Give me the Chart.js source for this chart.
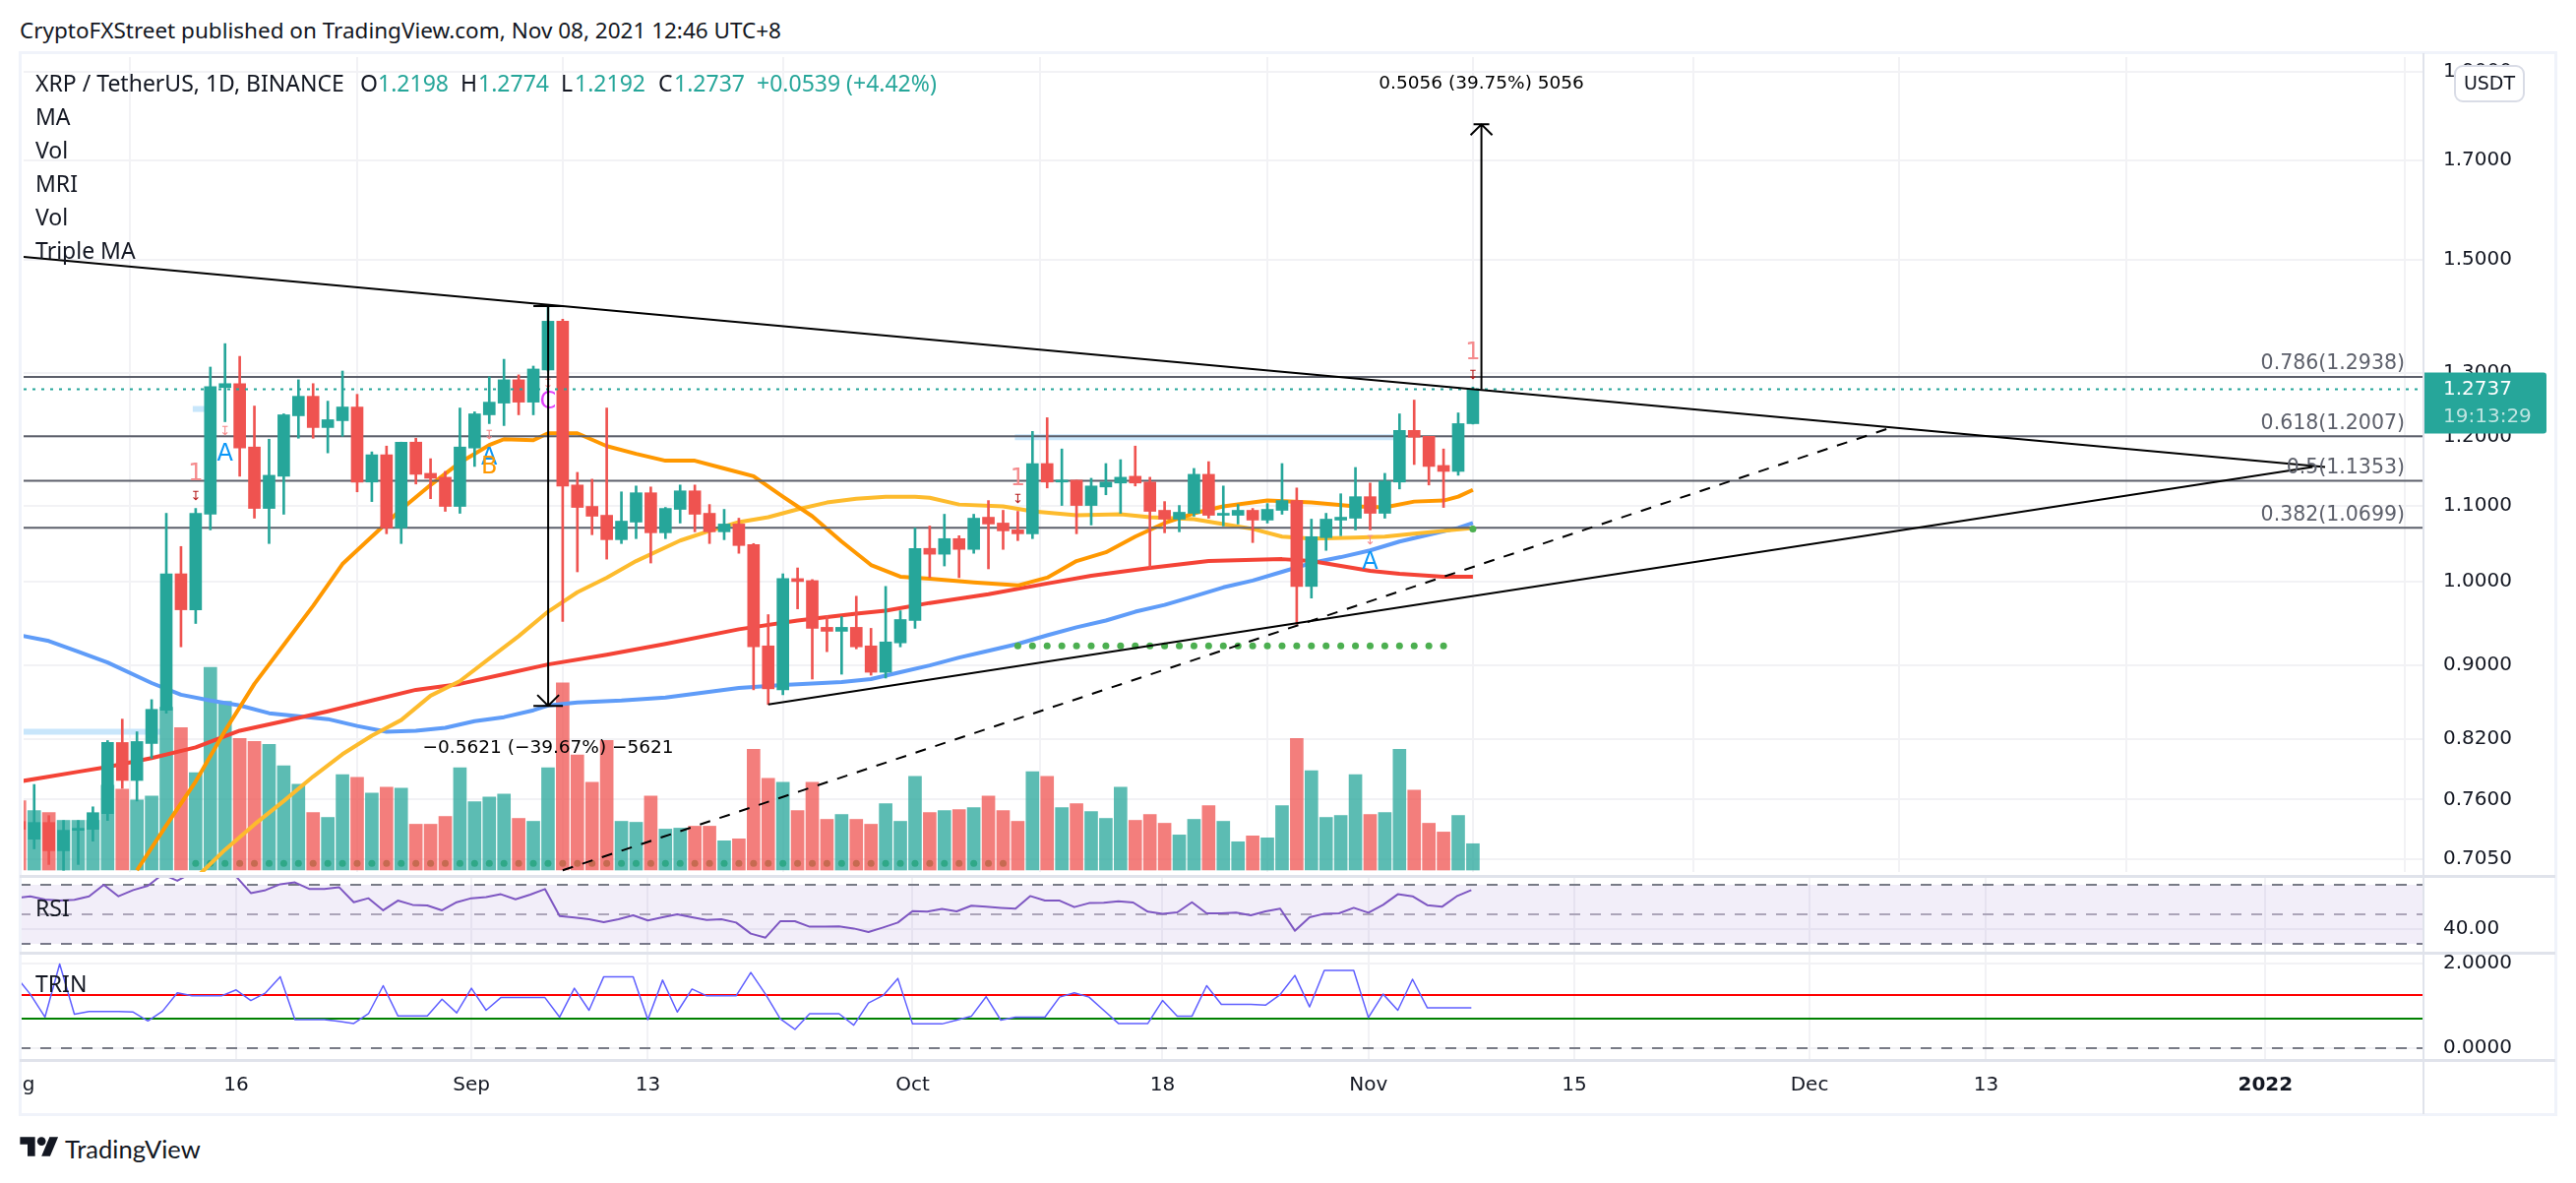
<!DOCTYPE html>
<html>
<head>
<meta charset="utf-8">
<title>XRP / TetherUS</title>
<script src="https://cdn.jsdelivr.net/npm/chart.js@4/dist/chart.umd.min.js"></script>
<style>
  html, body { margin: 0; padding: 0; background: #fff; }
  body { width: 2618px; height: 1202px; position: relative; overflow: hidden; font-family: "Noto Sans", sans-serif; color: #131722; }
  canvas { position: absolute; left: 20px; }
  .txt { position: absolute; white-space: nowrap; line-height: 28px; height: 28px; font-size: 23px; }
  .val { color: #26a69a; }
  .rule { position: absolute; }
</style>
</head>
<body>

<canvas id="mainChart" width="2578" height="836" style="top:54px"></canvas>
<canvas id="rsiChart" width="2578" height="78" style="top:890px"></canvas>
<canvas id="trinChart" width="2578" height="164" style="top:968px"></canvas>

<!-- frame and pane separators -->
<div class="rule" style="left:19px;top:52px;width:2580px;height:3px;background:#f0f3fa"></div>
<div class="rule" style="left:19px;top:52px;width:3px;height:1082px;background:#f0f3fa"></div>
<div class="rule" style="left:2596px;top:52px;width:3px;height:1082px;background:#f0f3fa"></div>
<div class="rule" style="left:19px;top:1131px;width:2580px;height:3px;background:#f0f3fa"></div>
<div class="rule" style="left:2462px;top:54px;width:2px;height:1078px;background:#e0e3eb"></div>
<div class="rule" style="left:20px;top:889px;width:2577px;height:3px;background:#e0e3eb"></div>
<div class="rule" style="left:20px;top:967px;width:2577px;height:3px;background:#e0e3eb"></div>
<div class="rule" style="left:20px;top:1076px;width:2577px;height:3px;background:#e0e3eb"></div>

<div class="txt" style="left:20px;top:17px;font-size:22.5px">CryptoFXStreet published on TradingView.com, Nov 08, 2021 12:46 UTC+8</div>

<div class="txt" style="left:36px;top:70px">XRP / TetherUS, 1D, BINANCE</div>
<div class="txt" style="left:366px;top:70px">O</div><div class="txt val" style="left:384px;top:70px">1.2198</div>
<div class="txt" style="left:468px;top:70px">H</div><div class="txt val" style="left:486px;top:70px">1.2774</div>
<div class="txt" style="left:570px;top:70px">L</div><div class="txt val" style="left:584px;top:70px">1.2192</div>
<div class="txt" style="left:669px;top:70px">C</div><div class="txt val" style="left:685px;top:70px">1.2737</div>
<div class="txt val" style="left:769px;top:70px">+0.0539 (+4.42%)</div>
<div class="txt" style="left:36px;top:104px">MA</div>
<div class="txt" style="left:36px;top:138px">Vol</div>
<div class="txt" style="left:36px;top:172px">MRI</div>
<div class="txt" style="left:36px;top:206px">Vol</div>
<div class="txt" style="left:36px;top:240px">Triple MA</div>
<div class="txt" style="left:36px;top:908px">RSI</div>
<div class="txt" style="left:36px;top:985px">TRIN</div>

<svg style="position:absolute;left:20px;top:1153px" width="40" height="24" viewBox="0 0 36 22" fill="#131722">
  <path d="M14 20H7V9H0V2h14v18zM28 20h-8l7.5-18h8L28 20z"/><circle cx="20" cy="6" r="4"/>
</svg>
<div class="txt" style="left:66px;top:1152px;font-family:Lato,sans-serif;font-size:25.5px;line-height:30px;height:30px">TradingView</div>

<script>
// x values are days counted from 2021-08-01 (day 0)
const xMin = 0.28;
const xMax = 163.75;

const opens = [0.7393,0.7231,0.7384,0.7126,0.7312,0.7321,0.7466,0.8166,0.7785,0.8156,
  0.8504,1.0098,0.9651,1.0884,1.2766,1.2829,1.1845,1.0964,1.1417,1.2320,
  1.2626,1.2139,1.2244,1.2457,1.1334,1.1730,1.0698,1.1918,1.1459,1.1403,
  1.0992,1.1830,1.2335,1.2518,1.2891,1.2533,1.3051,1.3877,1.1292,1.0992,
  1.0870,1.0541,1.0777,1.1182,1.0633,1.0951,1.1209,1.0897,1.0646,1.0751,
  1.0477,0.9222,0.8726,1.0037,1.0012,0.9440,0.9393,0.9440,0.9222,0.8921,
  0.9257,0.9521,1.0426,1.0350,1.0555,1.0413,1.0843,1.0764,1.0672,1.0620,
  1.1601,1.1334,1.1361,1.1005,1.1264,1.1320,1.1417,1.1334,1.0938,1.0817,
  1.0897,1.1445,1.0870,1.0870,1.0938,1.0804,1.0938,1.1073,0.9939,1.0568,
  1.0804,1.0830,1.1127,1.0897,1.1334,1.2095,1.2006,1.1573,1.1487,1.2198];
const highs = [0.7450,0.7746,0.7448,0.7403,0.7403,0.7531,0.8186,0.8410,0.8277,0.8619,
  1.0897,1.0451,1.0964,1.3099,1.3491,1.3277,1.2472,1.1962,1.2350,1.2891,
  1.2829,1.2549,1.3034,1.2657,1.1773,1.1859,1.1918,1.1977,1.1672,1.1487,
  1.2441,1.2381,1.2939,1.3228,1.2971,1.3115,1.4135,1.3911,1.1473,1.1375,
  1.2441,1.1195,1.1278,1.1264,1.0978,1.1292,1.1292,1.1018,1.0951,1.0830,
  1.0490,0.9592,1.0098,1.0173,1.0025,0.9580,0.9568,0.9817,0.9428,0.9939,
  0.9639,1.0698,1.0724,1.0884,1.0594,1.0884,1.1073,1.0938,1.0924,1.2080,
  1.2290,1.1816,1.1361,1.1388,1.1601,1.1658,1.1859,1.1403,1.1059,1.1005,
  1.1530,1.1629,1.1278,1.1018,1.0964,1.1032,1.1601,1.1250,1.0817,1.0897,
  1.1168,1.1544,1.1320,1.1459,1.2350,1.2566,1.2006,1.1816,1.2365,1.2774];
const lows = [0.7280,0.7143,0.7004,0.6953,0.7004,0.7213,0.7403,0.7708,0.7586,0.8007,
  0.8473,0.9211,0.9486,1.0672,1.2228,1.1417,1.0830,1.0490,1.0884,1.1977,
  1.1977,1.1758,1.2006,1.1195,1.1059,1.0620,1.0490,1.1306,1.1099,1.0924,
  1.0897,1.1559,1.2199,1.2169,1.2335,1.2335,1.3034,0.9509,1.0123,1.0607,
  1.0286,1.0490,1.0555,1.0236,1.0555,1.0764,1.0646,1.0490,1.0541,1.0362,
  0.8726,0.8567,0.8672,0.9662,0.8845,0.9155,0.8899,0.9188,0.8888,0.8856,
  0.9211,0.9428,1.0049,1.0198,1.0049,1.0362,1.0161,1.0413,1.0529,1.0555,
  1.1250,1.1005,1.0620,1.0738,1.1154,1.0897,1.1278,1.0173,1.0633,1.0646,
  1.0857,1.0830,1.0725,1.0751,1.0503,1.0764,1.0884,0.9475,0.9794,1.0400,
  1.0594,1.0672,1.0672,1.0830,1.1236,1.1587,1.1292,1.0978,1.1431,1.2192];
const closes = [0.7321,0.7384,0.7126,0.7312,0.7330,0.7476,0.8166,0.7785,0.8176,0.8514,
  1.0098,0.9651,1.0897,1.2782,1.2829,1.1830,1.0964,1.1431,1.2335,1.2626,
  1.2139,1.2259,1.2457,1.1334,1.1730,1.0698,1.1918,1.1445,1.1388,1.0992,
  1.1845,1.2350,1.2533,1.2891,1.2533,1.3067,1.3877,1.1278,1.0978,1.0857,
  1.0541,1.0790,1.1182,1.0633,1.0964,1.1209,1.0884,1.0646,1.0751,1.0464,
  0.9211,0.8737,1.0037,1.0000,0.9428,0.9393,0.9440,0.9211,0.8921,0.9268,
  0.9533,1.0426,1.0350,1.0555,1.0413,1.0830,1.0751,1.0659,1.0620,1.1601,
  1.1334,1.1361,1.1005,1.1278,1.1334,1.1403,1.1320,1.0924,1.0817,1.0911,
  1.1445,1.0870,1.0897,1.0938,1.0804,1.0951,1.1073,0.9939,1.0581,1.0817,
  1.0843,1.1127,1.0897,1.1347,1.2095,1.1992,1.1559,1.1487,1.2199,1.2737];
// relative volume, the pane has no volume axis to read from
const volumes = [71,61,59,51,51,51,87,83,72,76,
  167,146,100,208,173,135,132,129,107,88,
  59,54,98,95,79,85,84,47,47,55,
  105,70,75,78,53,50,105,192,118,90,
  133,50,49,76,42,43,45,45,30,32,
  124,94,90,61,90,52,57,52,47,68,
  50,96,59,61,62,64,76,61,50,101,
  96,64,68,60,53,85,51,57,48,36,
  52,66,50,29,35,33,66,135,102,54,
  56,98,57,59,124,82,48,39,56,27];

const orangeDays = [8,10,12,14,16,18,20,22,24,26,28,30,32,33,35,36,38,40,42,44,46,48,50,52,54,56,58,60,62,65,68,70,72,74,76,78,80,82,85,88,91,93,95,97,98,99];
const orangeValues = [0.6953,0.7357,0.7775,0.8288,0.8791,0.9233,0.9698,1.0223,1.0581,1.0951,1.1292,1.1616,1.1874,1.1962,1.1947,1.2051,1.2051,1.1859,1.1744,1.1643,1.1643,1.1530,1.1417,1.1127,1.0857,1.0516,1.0211,1.0061,1.0037,0.9988,0.9951,1.0049,1.0261,1.0375,1.0581,1.0764,1.0897,1.0992,1.1073,1.1046,1.0992,1.0978,1.1059,1.1073,1.1127,1.1223];
const yellowDays = [12,14,16,18,20,22,24,26,28,30,32,34,36,38,40,42,45,47,49,51,53,55,57,59,61,62,64,67,69,72,75,77,80,82,84,86,88,91,93,95,97,99];
const yellowValues = [0.6885,0.7135,0.7366,0.7586,0.7823,0.8047,0.8236,0.8400,0.8662,0.8823,0.9076,0.9336,0.9627,0.9866,1.0049,1.0261,1.0529,1.0659,1.0777,1.0843,1.0951,1.1046,1.1099,1.1127,1.1127,1.1113,1.1018,1.0992,1.0924,1.0870,1.0884,1.0843,1.0817,1.0751,1.0685,1.0581,1.0555,1.0568,1.0581,1.0620,1.0659,1.0698];
const redDays = [0,4,6,9,12,15,18,21,24,27,30,33,36,40,44,49,53,57,59,62,66,70,73,77,81,86,88,90,92,94,97,99];
const redValues = [0.7775,0.7871,0.7919,0.8007,0.8116,0.8288,0.8389,0.8493,0.8609,0.8726,0.8791,0.8899,0.9009,0.9121,0.9245,0.9417,0.9521,0.9604,0.9639,0.9734,0.9842,0.9975,1.0074,1.0173,1.0261,1.0286,1.0261,1.0198,1.0136,1.0098,1.0061,1.0061];
const blueDays = [0,2,4,6,9,11,13,15,17,19,21,23,25,27,29,31,33,35,36,38,41,44,49,52,56,58,60,62,64,66,68,70,72,74,76,78,80,82,84,86,88,90,92,94,96,98,99];
const blueValues = [0.9346,0.9279,0.9155,0.9032,0.8801,0.8672,0.8609,0.8556,0.8473,0.8441,0.8410,0.8338,0.8277,0.8288,0.8318,0.8389,0.8431,0.8504,0.8556,0.8588,0.8609,0.8641,0.8747,0.8779,0.8812,0.8845,0.8921,0.8998,0.9088,0.9165,0.9245,0.9346,0.9440,0.9521,0.9627,0.9710,0.9817,0.9927,1.0012,1.0123,1.0236,1.0312,1.0400,1.0516,1.0607,1.0698,1.0764];

const rsiValues = [60.9,62.2,60,59.3,59.8,62.2,70,62.2,66.4,69.3,
  77.1,72.7,78.2,79.3,78.7,75.6,64.4,66.4,70.4,71.6,
  67.1,67.1,68.4,58.2,60.9,52.7,59.3,56.4,56,52.7,
  58.2,60.9,61.6,63.6,60.2,63.3,67.1,48.9,47.8,46.7,
  44.7,46.7,49.3,45.8,48,50,48,46.2,46.7,44.4,
  36.9,34.2,45.3,45.3,41.6,41.6,41.8,40.4,38,41.1,
  44.4,52.2,51.8,53.6,52,55.8,55.1,54.4,53.8,62.4,
  59.3,59.3,54.9,57.6,57.8,58.9,58,51.8,50.4,51.3,
  58.2,50.7,50.7,51.1,49.3,52,53.8,38.9,48,50.4,
  50.7,54.4,51.1,56.4,63.6,62.2,56.2,55.1,62.2,66.4];
const trinValues = [1.70,1.27,0.73,1.98,0.80,0.86,0.86,0.86,0.85,0.64,
  0.87,1.30,1.23,1.23,1.23,1.37,1.12,1.30,1.68,0.67,
  0.67,0.67,0.63,0.58,0.81,1.47,0.76,0.76,0.76,1.15,
  0.83,1.41,0.89,1.19,1.19,1.19,1.19,0.73,1.41,0.89,
  1.68,1.68,1.68,0.67,1.60,0.85,1.39,1.23,1.23,1.23,
  1.78,1.27,0.69,0.44,0.81,0.81,0.81,0.54,1.06,1.24,
  1.64,0.57,0.57,0.57,0.66,0.75,1.21,0.66,0.73,0.73,
  0.73,1.20,1.30,1.20,0.89,0.58,0.58,0.58,1.12,0.75,
  0.75,1.47,1.03,1.03,1.03,1.01,1.26,1.71,0.97,1.83,
  1.83,1.83,0.72,1.27,0.89,1.62,0.95,0.95,0.95,0.95];

const priceTicks = [1.9,1.7,1.5,1.3,1.2,1.1,1.0,0.9,0.82,0.76,0.705];
const timeTickDays = [0,15,31,43,61,78,92,106,122,134,153];
const timeTickLabels = ['Aug','16','Sep','13','Oct','18','Nov','15','Dec','13','2022'];

const fibLevels = [1.2938,1.2007,1.1353,1.0699];
const fibLabels = ['0.786(1.2938)','0.618(1.2007)','0.5(1.1353)','0.382(1.0699)'];

// drawn trend lines: [day, price] at both ends
const fallingLineDays = [0.28,157.05];
const fallingLinePrices = [1.5047,1.1551];
const risingLineDays = [51,156.2];
const risingLinePrices = [0.8567,1.1551];
const dashedLineDays = [37,127.3];
const dashedLinePrices = [0.6953,1.2124];

// price range tools
const rangeDays = [36.01,99.58];
const rangeFrom = [1.4143,1.2737];
const rangeTo = [0.8552,1.778];
const rangeLabels = ['\u22120.5621 (\u221239.67%) \u22125621','0.5056 (39.75%) 5056'];

// MRI blue levels
const mriDays = [[0.28,9.6],[11.8,12.6],[67.8,94]];
const mriPrices = [0.8277,1.2426,1.1992];

// green support dots
const dotDaysLow = [12,13,14,15,16,17,18,19,20,21,22,23,24,25,26,27,28,29,30,31,32,33,34,35,36,37,38,39,40,41,42,43,44,45,46,47,48,49,50,51,52,53,54,55,56,57,58,59,60,61,62,63,64,65,66,67];
const dotDaysHigh = [68,69,70,71,72,73,74,75,76,77,78,79,80,81,82,83,84,85,86,87,88,89,90,91,92,93,94,95,96,97];
const dotPriceLow = 0.7013;
const dotPriceHigh = 0.9222;
const dotLastDay = 99;
const dotLastPrice = 1.0685;

// signal letters on the candles
const markerDays = [14,32,32,36,92,12,68,99,12,32,14,68,92,99,36];
const markerPrices = [1.1730,1.1672,1.1544,1.2533,1.0236,1.1445,1.1375,1.3326,1.1127,1.2021,1.2080,1.1086,1.0529,1.2955,1.2814];
const markerTexts = ['A','A','B','C','A','1','1','1','\u21a7','\u21a7','\u21a7','\u21a7','\u21a7','\u21a7','\u21a7'];
const markerColors = ['#0b97f7','#0b97f7','#ff9800','#e040fb','#0b97f7','#f58a8c','#f58a8c','#f58a8c','#b71c1c','#f58a8c','#f58a8c','#b71c1c','#f58a8c','#b71c1c','#f58a8c'];

const rsiLevels = [70,50,30];
const trinLevelHigh = 1.25;
const trinLevelLow = 0.695;
const trinLevelZero = 0;

const lastPrice = closes[closes.length - 1];
const countdown = '19:13:29';

const green = '#26a69a';
const red = '#ef5350';
const gridColor = '#f2f2f5';
const axisFont = '"DejaVu Sans", sans-serif';

Chart.defaults.font.family = axisFont;
Chart.defaults.color = '#131722';

const allDays = opens.map((o, i) => i);
const zip = (xs, ys) => xs.map((x, k) => ({ x: x, y: ys[k] }));
const candleColors = allDays.map(i => closes[i] >= opens[i] ? green : red);
const volumeColors = allDays.map(i => closes[i] >= opens[i] ? 'rgba(38,166,154,0.75)' : 'rgba(239,83,80,0.75)');

function lineSet(data, color, width, order, extra) {
  return Object.assign({
    type: 'line', data: data, borderColor: color, borderWidth: width,
    pointRadius: 0, tension: 0, fill: false, order: order, borderJoinStyle: 'round'
  }, extra || {});
}

function flatLine(value) {
  return [{ x: xMin, y: value }, { x: xMax, y: value }];
}

function xAxis(extra) {
  return Object.assign({
    type: 'linear', min: xMin, max: xMax, offset: false,
    grid: { color: gridColor, lineWidth: 2, drawTicks: false },
    border: { display: false },
    ticks: { display: false, autoSkip: false, maxRotation: 0 },
    afterBuildTicks: s => { s.ticks = timeTickDays.map(v => ({ value: v })); },
    afterFit: s => { s.height = 0; s.paddingLeft = 0; s.paddingRight = 0; }
  }, extra || {});
}

function priceAxis(tickValues, decimals, extra) {
  return Object.assign({
    position: 'right',
    grid: { color: gridColor, lineWidth: 2, drawTicks: false },
    border: { display: false },
    ticks: {
      autoSkip: false, padding: 20, crossAlign: 'near', color: '#131722',
      font: { size: 20 }, callback: v => Number(v).toFixed(decimals)
    },
    afterBuildTicks: s => { s.ticks = tickValues.map(v => ({ value: v })); },
    afterFit: s => { s.width = 135; s.paddingTop = 0; s.paddingBottom = 0; }
  }, extra || {});
}

const baseOptions = {
  responsive: false, animation: false, devicePixelRatio: 1,
  layout: { padding: 0 },
  plugins: { legend: { display: false }, tooltip: { enabled: false } }
};

// text, arrows and the price tag on top of the main pane
const overlayPlugin = {
  id: 'overlay',
  afterDraw(chart) {
    const ctx = chart.ctx;
    const x = chart.scales.x;
    const y = chart.scales.y;
    const area = chart.chartArea;
    ctx.save();
    ctx.textBaseline = 'middle';

    ctx.textAlign = 'center';
    markerTexts.forEach((t, k) => {
      const small = t === '\u21a7';
      ctx.font = (small ? '13px ' : '24px ') + axisFont;
      ctx.fillStyle = markerColors[k];
      ctx.fillText(t, x.getPixelForValue(markerDays[k]), y.getPixelForValue(markerPrices[k]));
    });

    ctx.textAlign = 'right';
    ctx.font = '20.5px ' + axisFont;
    ctx.fillStyle = '#5d606b';
    fibLevels.forEach((v, k) => {
      ctx.fillText(fibLabels[k], area.right - 19, y.getPixelForValue(v) - 13);
    });

    // price range arrows
    ctx.strokeStyle = '#000';
    ctx.lineWidth = 2;
    rangeDays.forEach((d, k) => {
      const px = x.getPixelForValue(d);
      const y0 = y.getPixelForValue(rangeFrom[k]);
      const y1 = y.getPixelForValue(rangeTo[k]);
      const dir = y1 > y0 ? 1 : -1;
      const capW = dir > 0 ? 15 : 8;
      ctx.beginPath();
      ctx.moveTo(px, y0); ctx.lineTo(px, y1);
      if (dir > 0) { ctx.moveTo(px - capW, y0); ctx.lineTo(px + capW, y0); }
      ctx.moveTo(px - capW, y1); ctx.lineTo(px + capW, y1);
      ctx.moveTo(px - 11, y1 - dir * 11); ctx.lineTo(px, y1); ctx.lineTo(px + 11, y1 - dir * 11);
      ctx.stroke();
      ctx.textAlign = 'center';
      ctx.font = '18.5px ' + axisFont;
      ctx.fillStyle = '#000';
      ctx.fillText(rangeLabels[k], px, y1 + dir * (dir > 0 ? 43 : 41));
    });

    // last price tag on the axis
    const tagY = y.getPixelForValue(lastPrice);
    ctx.fillStyle = green;
    ctx.beginPath();
    ctx.roundRect(area.right - 1, tagY - 17, 126, 62, [0, 3, 3, 0]);
    ctx.fill();
    ctx.textAlign = 'left';
    ctx.font = '20px ' + axisFont;
    ctx.fillStyle = '#fff';
    ctx.fillText(lastPrice.toFixed(4), area.right + 20, tagY);
    ctx.fillStyle = 'rgba(255,255,255,0.7)';
    ctx.fillText(countdown, area.right + 20, tagY + 28);

    // currency button
    ctx.fillStyle = '#fff';
    ctx.strokeStyle = '#d9dce6';
    ctx.beginPath();
    ctx.roundRect(area.right + 32, 13, 70, 36, 8);
    ctx.fill();
    ctx.stroke();
    ctx.textAlign = 'center';
    ctx.fillStyle = '#131722';
    ctx.font = '19px ' + axisFont;
    ctx.fillText('USDT', area.right + 67, 32);
    ctx.restore();
  }
};

const candleSets = [
  { label: 'wicks', data: allDays.map(i => ({ x: i, y: [lows[i], highs[i]] })), backgroundColor: candleColors, barThickness: 2, grouped: false, order: 5, borderWidth: 0 },
  { label: 'bodies', data: allDays.map(i => ({ x: i, y: [opens[i], closes[i]] })), backgroundColor: candleColors, barThickness: 12, grouped: false, order: 4, borderWidth: 0 },
  { label: 'volume', data: allDays.map(i => ({ x: i, y: volumes[i] })), backgroundColor: volumeColors, barThickness: 13, grouped: false, order: 9, yAxisID: 'vol', borderWidth: 0 }
];

const mriSets = mriPrices.map((p, k) => lineSet(zip(mriDays[k], [p, p]), '#c8e6fb', 6, 12));
const fibSets = fibLevels.map(v => lineSet(flatLine(v), '#5d606b', 2, 6));

new Chart(document.getElementById('mainChart'), {
  type: 'bar',
  data: {
    datasets: candleSets.concat(mriSets, fibSets, [
      lineSet(zip(orangeDays, orangeValues), '#ff9800', 4, 7),
      lineSet(zip(yellowDays, yellowValues), '#fdbb2d', 4, 7),
      lineSet(zip(redDays, redValues), '#f44336', 4, 7),
      lineSet(zip(blueDays, blueValues), '#5f9cf8', 4, 7),
      lineSet(flatLine(lastPrice), green, 2, 3, { borderDash: [3, 6] }),
      lineSet(zip(fallingLineDays, fallingLinePrices), '#000', 2, 2),
      lineSet(zip(risingLineDays, risingLinePrices), '#000', 2, 2),
      lineSet(zip(dashedLineDays, dashedLinePrices), '#000', 2, 2, { borderDash: [11, 10] }),
      lineSet(dotDaysLow.map(d => ({ x: d, y: dotPriceLow })), '#4caf50', 0, 11, { showLine: false, pointRadius: 3.5, pointBackgroundColor: '#4caf50', pointBorderWidth: 0 }),
      lineSet(dotDaysHigh.map(d => ({ x: d, y: dotPriceHigh })), '#4caf50', 0, 3, { showLine: false, pointRadius: 3.5, pointBackgroundColor: '#4caf50', pointBorderWidth: 0 }),
      lineSet([{ x: dotLastDay, y: dotLastPrice }], '#4caf50', 0, 3, { showLine: false, pointRadius: 3.5, pointBackgroundColor: '#4caf50', pointBorderWidth: 0 })
    ])
  },
  options: Object.assign({}, baseOptions, {
    scales: {
      x: xAxis(),
      y: priceAxis(priceTicks, 4, { type: 'logarithmic', min: 0.6938, max: 1.935 }),
      vol: { display: false, type: 'linear', min: -2, max: 834 }
    }
  }),
  plugins: [overlayPlugin]
});

new Chart(document.getElementById('rsiChart'), {
  type: 'line',
  data: {
    datasets: [
      lineSet(flatLine(rsiLevels[0]), '#787b86', 2, 2, { borderDash: [11, 10], fill: 1, backgroundColor: 'rgba(126,87,194,0.1)' }),
      lineSet(flatLine(rsiLevels[2]), '#787b86', 2, 2, { borderDash: [11, 10] }),
      lineSet(flatLine(rsiLevels[1]), '#b2aeb8', 2, 2, { borderDash: [11, 10] }),
      lineSet(zip(allDays, rsiValues), '#7e57c2', 2, 1)
    ]
  },
  options: Object.assign({}, baseOptions, {
    scales: {
      x: xAxis(),
      y: priceAxis([40], 2, { type: 'linear', min: 24, max: 76 })
    }
  })
});

new Chart(document.getElementById('trinChart'), {
  type: 'line',
  data: {
    datasets: [
      lineSet(flatLine(trinLevelZero), '#787b86', 2, 3, { borderDash: [11, 10] }),
      lineSet(flatLine(trinLevelHigh), '#ff0000', 2, 2),
      lineSet(flatLine(trinLevelLow), '#008000', 2, 2),
      lineSet(zip(allDays, trinValues), '#5f5fff', 1.5, 1)
    ]
  },
  options: Object.assign({}, baseOptions, {
    scales: {
      x: xAxis({
        ticks: {
          display: true, autoSkip: false, maxRotation: 0, padding: 14, color: '#131722',
          font: ctx => ({ size: 20, weight: ctx.tick && ctx.tick.value === 153 ? 'bold' : 'normal' }),
          callback: v => timeTickLabels[timeTickDays.indexOf(v)]
        },
        afterFit: s => { s.height = 55; s.paddingLeft = 0; s.paddingRight = 0; }
      }),
      y: priceAxis([0, 2], 4, { type: 'linear', min: -0.278, max: 2.245 })
    }
  })
});
</script>
</body>
</html>
